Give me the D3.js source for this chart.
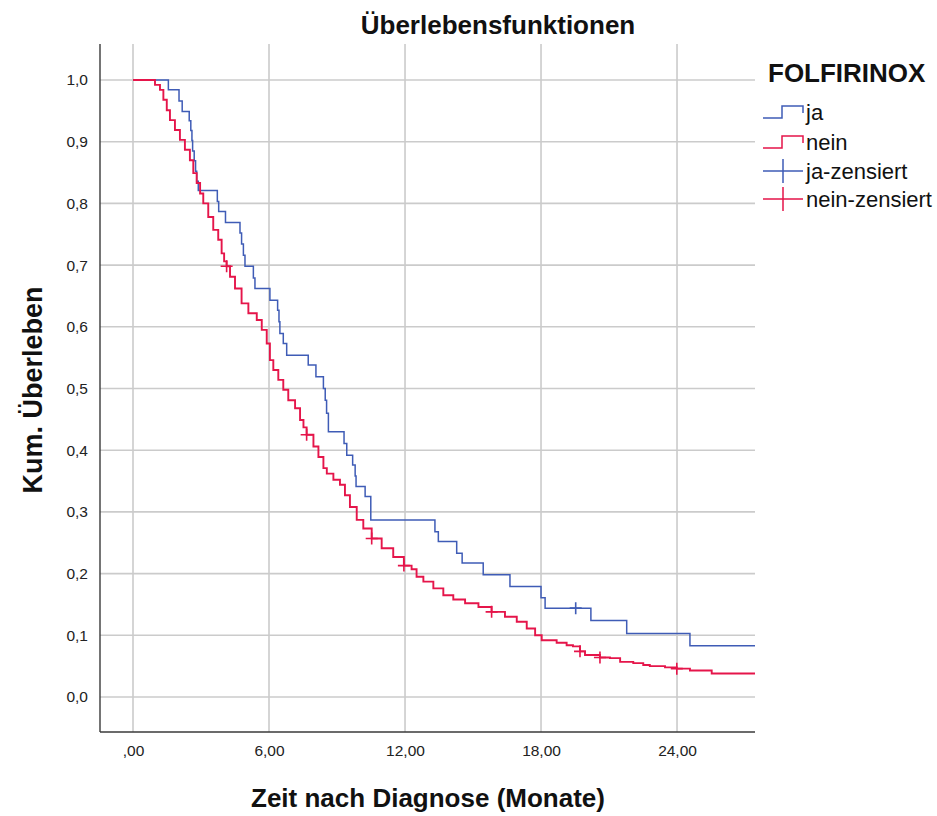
<!DOCTYPE html>
<html>
<head>
<meta charset="utf-8">
<script src="https://cdn.jsdelivr.net/npm/d3@7/dist/d3.min.js"></script>
<style>
  html, body { margin: 0; padding: 0; background: #fff; }
  svg { display: block; font-family: "Liberation Sans", Arial, sans-serif; }
</style>
</head>
<body>
<svg id="chart" width="937" height="816"></svg>
<script>
// Kaplan-Meier survival steps: [months, cumulative survival after the step]
const jaSteps = [
  [0, 1.0], [1.56, 0.984], [2.03, 0.966], [2.17, 0.949], [2.48, 0.934],
  [2.55, 0.918], [2.60, 0.902], [2.63, 0.885], [2.70, 0.869], [2.76, 0.852],
  [2.81, 0.836], [2.88, 0.821], [3.72, 0.803], [3.78, 0.787], [4.08, 0.769],
  [4.72, 0.752], [4.79, 0.734], [4.87, 0.716], [4.94, 0.698], [5.31, 0.679],
  [5.38, 0.662], [6.04, 0.643], [6.38, 0.627], [6.44, 0.608], [6.48, 0.589],
  [6.63, 0.573], [6.78, 0.554], [7.73, 0.538], [8.07, 0.519], [8.40, 0.500],
  [8.48, 0.481], [8.54, 0.460], [8.62, 0.430], [9.31, 0.411], [9.43, 0.392],
  [9.69, 0.376], [9.80, 0.358], [9.84, 0.341], [10.24, 0.325], [10.49, 0.287],
  [13.32, 0.268], [13.47, 0.252], [14.28, 0.233], [14.52, 0.217], [15.45, 0.198],
  [16.63, 0.179], [18.0, 0.161], [18.18, 0.144], [20.2, 0.124], [21.78, 0.103],
  [24.57, 0.083]
];
const neinSteps = [
  [0, 1.0], [0.97, 0.992], [1.19, 0.984], [1.34, 0.968], [1.49, 0.951],
  [1.63, 0.935], [1.85, 0.919], [2.07, 0.903], [2.29, 0.887], [2.51, 0.870],
  [2.66, 0.849], [2.81, 0.833], [2.96, 0.816], [3.10, 0.800], [3.32, 0.778],
  [3.54, 0.757], [3.76, 0.741], [3.91, 0.719], [4.02, 0.706], [4.13, 0.698],
  [4.28, 0.681], [4.50, 0.662], [4.79, 0.638], [5.09, 0.622], [5.46, 0.611],
  [5.68, 0.595], [5.90, 0.573], [6.04, 0.546], [6.19, 0.530], [6.41, 0.514],
  [6.63, 0.498], [6.85, 0.481], [7.15, 0.468], [7.37, 0.449], [7.52, 0.437],
  [7.66, 0.425], [7.96, 0.406], [8.18, 0.389], [8.40, 0.371], [8.55, 0.362],
  [8.84, 0.352], [9.13, 0.344], [9.35, 0.327], [9.57, 0.308], [9.87, 0.287],
  [10.16, 0.273], [10.53, 0.257], [10.97, 0.241], [11.48, 0.227], [11.95, 0.213],
  [12.29, 0.207], [12.51, 0.195], [12.81, 0.187], [13.25, 0.176], [13.69, 0.165],
  [14.13, 0.158], [14.65, 0.152], [15.24, 0.146], [15.82, 0.138], [16.41, 0.130],
  [16.93, 0.122], [17.37, 0.111], [17.74, 0.100], [18.03, 0.092], [18.69, 0.088],
  [19.13, 0.084], [19.41, 0.082], [19.72, 0.074], [19.94, 0.068], [20.6, 0.064],
  [21.04, 0.063], [21.49, 0.057], [22.07, 0.055], [22.51, 0.052], [22.8, 0.050],
  [23.47, 0.048], [23.99, 0.046], [24.57, 0.043], [25.53, 0.038]
];
// Censored observations: [months, survival at censoring]
const jaCensored = [[19.53, 0.144]];
const neinCensored = [
  [4.13, 0.698], [7.66, 0.425], [10.53, 0.257], [11.95, 0.213],
  [15.82, 0.138], [19.72, 0.074], [20.6, 0.064], [23.99, 0.046]
];
const xTicks = [0, 6, 12, 18, 24];
const xTickLabels = [",00", "6,00", "12,00", "18,00", "24,00"];
const yTicks = [0, 0.1, 0.2, 0.3, 0.4, 0.5, 0.6, 0.7, 0.8, 0.9, 1.0];
const yTickLabels = ["0,0", "0,1", "0,2", "0,3", "0,4", "0,5", "0,6", "0,7", "0,8", "0,9", "1,0"];
const groups = ["ja", "nein"];
const legendLabels = ["ja", "nein", "ja-zensiert", "nein-zensiert"];

const colors = { ja: "#3f5cb6", nein: "#e5154a" };
const tMax = 27.44;

const svg = d3.select("#chart");
const plot = { left: 100, right: 755, top: 44, bottom: 732 };

const x = d3.scaleLinear().domain([-1.456, tMax]).range([plot.left, plot.right]);
const y = d3.scaleLinear().domain([-0.0567, 1.0583]).range([plot.bottom, plot.top]);

// grid
const grid = svg.append("g").attr("stroke", "#cbcbcb").attr("stroke-width", 1.6);
grid.selectAll("line.h").data(yTicks).join("line")
  .attr("x1", plot.left).attr("x2", plot.right)
  .attr("y1", d => y(d)).attr("y2", d => y(d));
grid.selectAll("line.v").data(xTicks).join("line")
  .attr("y1", plot.top).attr("y2", plot.bottom)
  .attr("x1", d => x(d)).attr("x2", d => x(d));

// axes (labels only; lines drawn below)
const yAxis = d3.axisLeft(y).tickValues(yTicks)
  .tickFormat((d, i) => yTickLabels[i]).tickSize(0).tickPadding(12);
const gy = svg.append("g").attr("transform", `translate(${plot.left},0)`).call(yAxis);
gy.select(".domain").remove();
gy.selectAll("text").attr("font-size", 15.5).attr("fill", "#222")
  .attr("font-family", "Liberation Sans, Arial, sans-serif");

const xAxis = d3.axisBottom(x).tickValues(xTicks)
  .tickFormat((d, i) => xTickLabels[i]).tickSize(0).tickPadding(13);
const gx = svg.append("g").attr("transform", `translate(0,${plot.bottom})`).call(xAxis);
gx.select(".domain").remove();
gx.selectAll("text").attr("font-size", 15.5).attr("fill", "#222")
  .attr("font-family", "Liberation Sans, Arial, sans-serif");

svg.append("line").attr("x1", plot.left).attr("x2", plot.left)
  .attr("y1", plot.top).attr("y2", plot.bottom)
  .attr("stroke", "#3a3a3a").attr("stroke-width", 1.4);
svg.append("line").attr("x1", plot.left).attr("x2", plot.right)
  .attr("y1", plot.bottom).attr("y2", plot.bottom)
  .attr("stroke", "#3a3a3a").attr("stroke-width", 1.4);

// survival curves
const stepLine = d3.line().x(d => x(d[0])).y(d => y(d[1])).curve(d3.curveStepAfter);
const series = { ja: jaSteps, nein: neinSteps };
groups.forEach(g => {
  const pts = series[g].concat([[tMax, series[g][series[g].length - 1][1]]]);
  svg.append("path").datum(pts)
    .attr("d", stepLine)
    .attr("fill", "none")
    .attr("stroke", colors[g])
    .attr("stroke-width", g === "nein" ? 1.9 : 1.5);
});

// censor marks
const plus = "M-6,0H6M0,-6V6";
const censored = { ja: jaCensored, nein: neinCensored };
groups.forEach(g => {
  svg.append("g").selectAll("path").data(censored[g]).join("path")
    .attr("d", plus)
    .attr("transform", d => `translate(${x(d[0])},${y(d[1])})`)
    .attr("stroke", colors[g]).attr("stroke-width", 1.6).attr("fill", "none");
});

// titles
svg.append("text").attr("x", 498).attr("y", 34).attr("text-anchor", "middle")
  .attr("font-size", 26).attr("font-weight", "bold").attr("fill", "#111")
  .text("Überlebensfunktionen");
svg.append("text").attr("x", 428).attr("y", 807).attr("text-anchor", "middle")
  .attr("font-size", 26).attr("font-weight", "bold").attr("fill", "#111")
  .text("Zeit nach Diagnose (Monate)");
svg.append("text").attr("transform", "translate(42,390) rotate(-90)")
  .attr("text-anchor", "middle")
  .attr("font-size", 27).attr("font-weight", "bold").attr("fill", "#111")
  .text("Kum. Überleben");

// legend
const lg = svg.append("g");
lg.append("text").attr("x", 768).attr("y", 82)
  .attr("font-size", 26).attr("font-weight", "bold").attr("fill", "#111")
  .text("FOLFIRINOX");
const rowY = [112, 142, 171, 199];
legendLabels.forEach((lab, i) => {
  const g = i % 2 === 0 ? "ja" : "nein";
  const cy = rowY[i];
  if (i < 2) {
    lg.append("path")
      .attr("d", `M763,${cy + 6}H782V${cy - 6}H803V${cy + 1}`)
      .attr("fill", "none").attr("stroke", colors[g]).attr("stroke-width", 1.5);
  } else {
    lg.append("path")
      .attr("d", `M763,${cy}H803M783,${cy - 12}V${cy + 12}`)
      .attr("fill", "none").attr("stroke", colors[g]).attr("stroke-width", 1.5);
  }
  lg.append("text").attr("x", 806).attr("y", cy + 8)
    .attr("font-size", 22).attr("fill", "#111").text(lab);
});
</script>
</body>
</html>
